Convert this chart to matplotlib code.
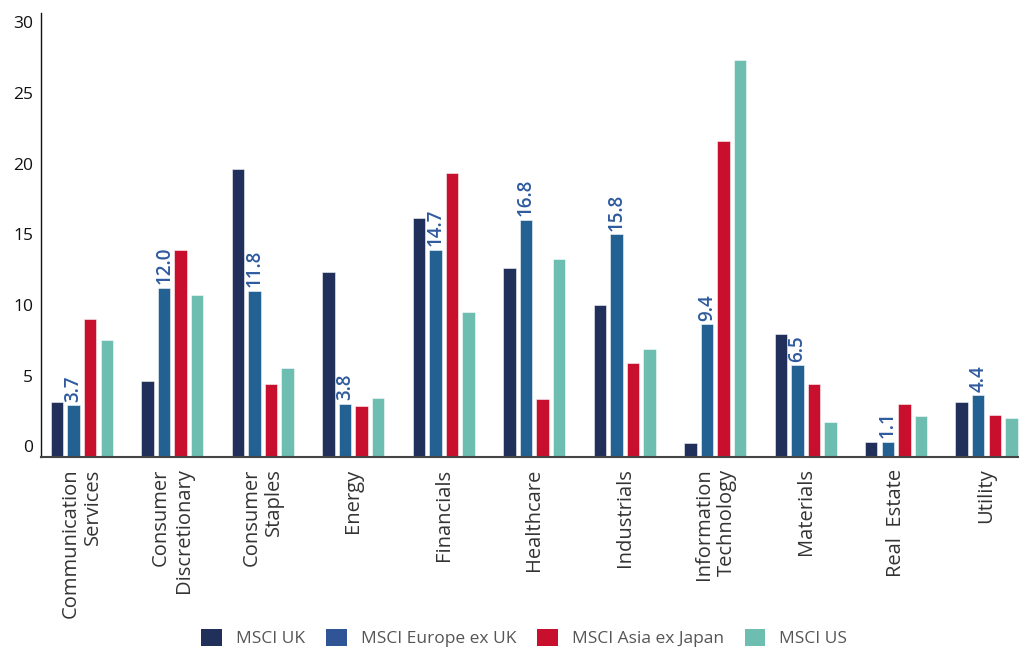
import numpy as np
import matplotlib
matplotlib.use("Agg")
import matplotlib.pyplot as plt
from matplotlib.patches import Patch
import matplotlib.transforms as mtransforms

plt.rcParams['font.family'] = ['Open Sans', 'DejaVu Sans']

# sectors and series values
sectors = ["Communication\nServices", "Consumer\nDiscretionary", "Consumer\nStaples",
           "Energy", "Financials", "Healthcare", "Industrials",
           "Information\nTechnology", "Materials", "Real  Estate", "Utility"]
msci_uk = [3.9, 5.4, 20.4, 13.1, 16.9, 13.4, 10.8, 1.0, 8.7, 1.1, 3.9]
msci_europe = [3.7, 12.0, 11.8, 3.8, 14.7, 16.8, 15.8, 9.4, 6.5, 1.1, 4.4]
msci_asia = [9.8, 14.7, 5.2, 3.6, 20.1, 4.1, 6.7, 22.4, 5.2, 3.8, 3.0]
msci_us = [8.3, 11.5, 6.3, 4.2, 10.3, 14.0, 7.7, 28.1, 2.5, 2.9, 2.8]
series_names = ["MSCI UK", "MSCI Europe ex UK", "MSCI Asia ex Japan", "MSCI US"]
y_ticks = [0, 5, 10, 15, 20, 25, 30]

colors = ["#21305b", "#236192", "#c8102e", "#6dbdb0"]
legend_colors = ["#21305b", "#2f5597", "#c8102e", "#6dbdb0"]
label_color = "#2f5a9e"

fig = plt.figure(figsize=(10.2, 6.51), dpi=100)
ax = fig.add_axes([0.0405, 0.2975, 0.9595, 0.6821])

x = np.arange(len(sectors))
step = 0.183
width = 0.138
all_series = [msci_uk, msci_europe, msci_asia, msci_us]
for i, (vals, c) in enumerate(zip(all_series, colors)):
    ax.bar(x + (i - 1.5) * step, vals, width, color=c,
           edgecolor=(1, 1, 1, 0.6), linewidth=0.6, zorder=2)

# value labels on the Europe ex UK bars
for xi, v in zip(x, msci_europe):
    ax.annotate(f"{v:.1f}", (xi - 0.5 * step, v), xytext=(0, 2.5),
                textcoords="offset points", rotation=90, ha="center", va="bottom",
                fontsize=13.5, fontweight="semibold", color=label_color)

ax.set_xlim(-0.449, 10.37)
ax.set_ylim(0, 31.42)
ax.set_yticks(y_ticks)
ax.set_yticklabels([str(t) for t in y_ticks], fontsize=12.5, color="#111111")
ax.tick_params(axis="y", length=0, pad=6)
offset = mtransforms.ScaledTranslation(0, 11 / 100, fig.dpi_scale_trans)
for lbl in ax.get_yticklabels():
    lbl.set_transform(lbl.get_transform() + offset)

ax.set_xticks(x)
ax.set_xticklabels(sectors, rotation=90, fontsize=14.5, color="#333333",
                   ha="center", va="top", multialignment="right")
ax.tick_params(axis="x", length=0, pad=8)

for s in ["top", "right"]:
    ax.spines[s].set_visible(False)
ax.spines["left"].set_color("#111111")
ax.spines["left"].set_linewidth(1.0)
ax.spines["bottom"].set_color("#444444")
ax.spines["bottom"].set_linewidth(1.5)

handles = [Patch(facecolor=c, edgecolor="none") for c in legend_colors]
fig.legend(handles, series_names, loc="center", bbox_to_anchor=(0.514, 0.02),
           ncol=4, frameon=False, fontsize=12.5, labelcolor="#555555",
           handlelength=1.2, handleheight=1.2, handletextpad=0.8, columnspacing=1.2)

fig.savefig("out.png", dpi=100)
